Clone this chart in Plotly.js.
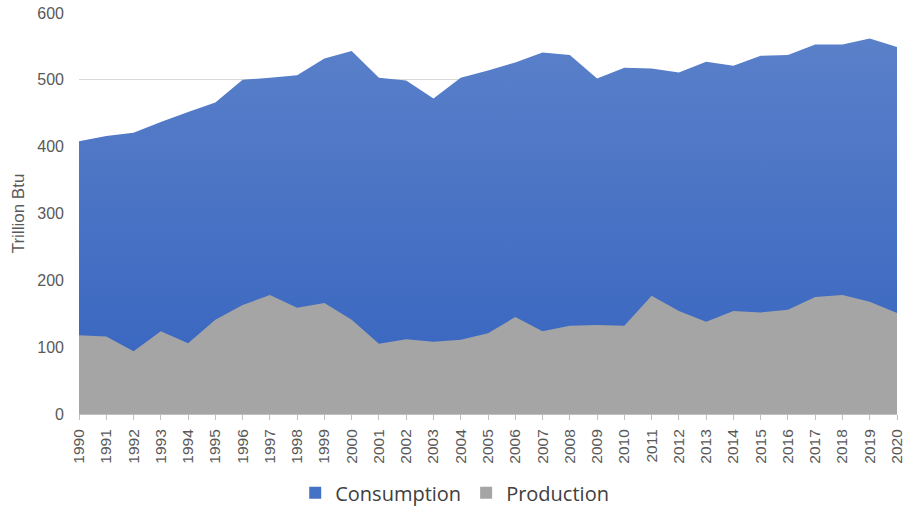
<!DOCTYPE html>
<html>
<head>
<meta charset="utf-8">
<script src="https://cdn.plot.ly/plotly-3.0.1.min.js"></script>
<style>html,body{margin:0;padding:0;background:#fff}#chart{width:904px;height:508px}</style>
</head>
<body>
<div id="chart"></div>
<script>
const years = [1990,1991,1992,1993,1994,1995,1996,1997,1998,1999,2000,2001,2002,2003,2004,2005,2006,2007,2008,2009,2010,2011,2012,2013,2014,2015,2016,2017,2018,2019,2020];
const consumption = [408,416,421,437,452,466,500,503,507,532,543,503,499,472,503,514,526,541,537,502,518,517,511,527,521,536,537,553,553,562,549];
const production = [118,116,94,124,106,141,163,178,159,166,141,105,112,108,111,121,145,124,132,133,132,177,154,138,154,152,156,175,178,168,151];

const blue = '#4472c4';
const gray = '#a5a5a5';

const traces = [
  {
    x: years, y: consumption, name: 'Consumption', type: 'scatter', mode: 'none',
    fill: 'tozeroy', fillcolor: blue,
    fillgradient: {type: 'vertical', colorscale: [[0, '#3563bf'], [1, '#5a80c9']]},
    showlegend: false
  },
  {
    x: years, y: production, name: 'Production', type: 'scatter', mode: 'none',
    fill: 'tozeroy', fillcolor: gray, showlegend: false
  },
  // legend swatches (square keys)
  {x: [years[0]], y: [0], name: 'Consumption', type: 'bar', marker: {color: blue, line: {width: 0}}, showlegend: true},
  {x: [years[0]], y: [0], name: 'Production', type: 'bar', marker: {color: gray, line: {width: 0}}, showlegend: true}
];

const layout = {
  width: 904, height: 508,
  margin: {l: 79, r: 7, t: 13, b: 94, autoexpand: false},
  paper_bgcolor: '#fff', plot_bgcolor: '#fff',
  font: {family: 'Liberation Sans, Arial, sans-serif', color: '#595959'},
  showlegend: true,
  legend: {
    orientation: 'h', xref: 'container', yref: 'container',
    x: 0.503, xanchor: 'center', y: 0.03, yanchor: 'middle',
    font: {size: 20, color: '#404040', family: 'Open Sans, sans-serif'},
    traceorder: 'normal', itemwidth: 30
  },
  xaxis: {
    type: 'linear', range: [1990, 2020], tickmode: 'array', tickvals: years,
    ticktext: years.map(String), tickangle: -90,
    tickfont: {size: 15.5, color: '#595959'},
    ticks: 'outside', ticklen: 5, tickcolor: '#bfbfbf',
    ticklabeloverflow: 'allow', ticklabelstandoff: 3,
    showline: true, linecolor: '#bfbfbf', linewidth: 1,
    showgrid: false, zeroline: false, fixedrange: true, automargin: false
  },
  yaxis: {
    range: [0, 600], dtick: 100,
    tickfont: {size: 16, color: '#595959'},
    showgrid: true, gridcolor: '#d9d9d9', gridwidth: 1,
    zeroline: false, showline: false, ticks: '', ticklen: 0,
    ticklabelstandoff: 14,
    title: {text: 'Trillion Btu', font: {size: 17, color: '#595959'}, standoff: 8},
    fixedrange: true, automargin: false
  }
};

Plotly.newPlot('chart', traces, layout, {displayModeBar: false, staticPlot: true});
</script>
</body>
</html>
